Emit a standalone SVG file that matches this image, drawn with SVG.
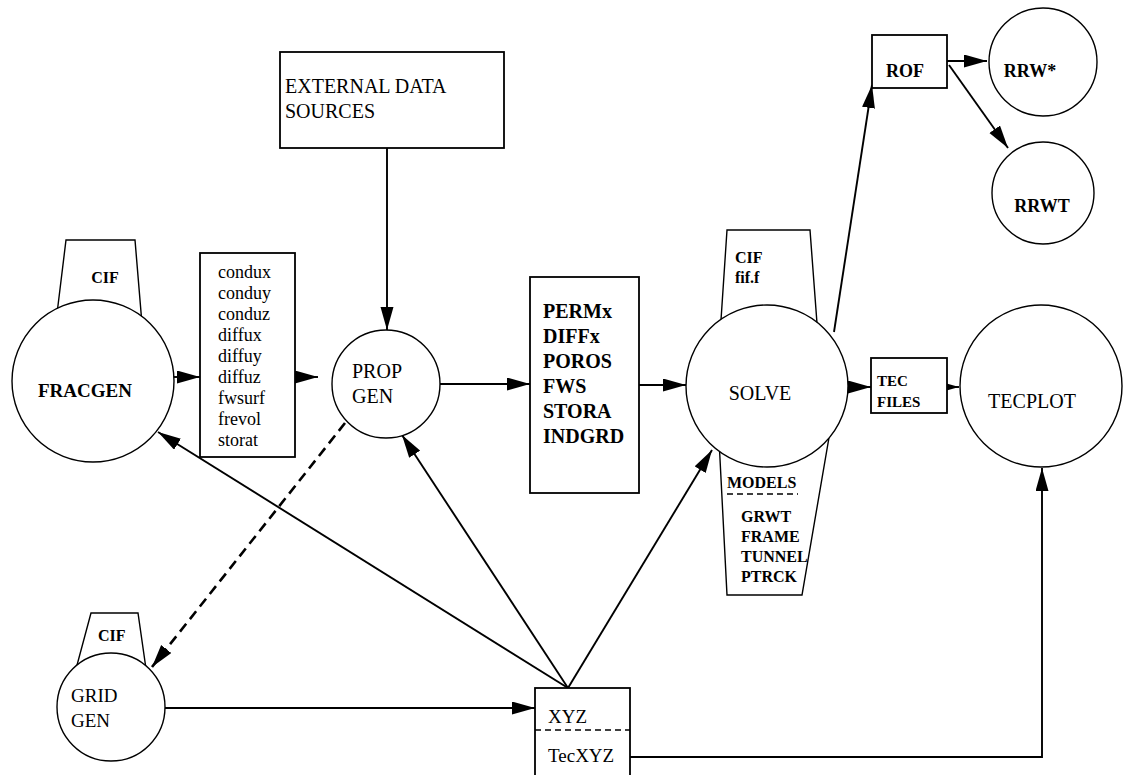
<svg xmlns="http://www.w3.org/2000/svg" width="1124" height="775" viewBox="0 0 1124 775">
<defs>
<marker id="ah" markerUnits="userSpaceOnUse" markerWidth="24" markerHeight="14" refX="23" refY="6.5" orient="auto">
<path d="M0,0 L23,6.5 L0,13 z" fill="#000"/>
</marker>
<style>
.c{fill:#fff;stroke:#000;stroke-width:1.4}
.b{fill:#fff;stroke:#000;stroke-width:1.8}
.t{fill:#fff;stroke:#000;stroke-width:1.4}
.e{fill:none;stroke:#000;stroke-width:1.9}
.a{marker-end:url(#ah)}
.d{stroke-dasharray:10,6;stroke-width:2.6}
text{font-family:"Liberation Serif","Times New Roman",serif;fill:#000}
.r20{font-size:20px}
.r19{font-size:19px}
.r18{font-size:18px}
.bd{font-weight:bold}
</style>
</defs>
<rect width="1124" height="775" fill="#fff"/>

<g id="connectors">
<path class="e a" d="M168,377 L200,377"/>
<path class="e a" d="M296,377 L318,377"/>
<path class="e a" d="M387,148 L387,330"/>
<path class="e a" d="M440,384 L530,384"/>
<path class="e a" d="M639,385 L686,385"/>
<path class="e a" d="M834,332 L872,85"/>
<path class="e a" d="M846,387 L871,387"/>
<path class="e a" d="M935,387 L959,387"/>
<path class="e a" d="M947,61 L987,61"/>
<path class="e a" d="M949,65 L1008,148"/>
<path class="e a" d="M568,688 L158,432"/>
<path class="e a" d="M568,688 L402,435"/>
<path class="e a" d="M568,688 L712,450"/>
<path class="e a" d="M165,708 L535,708"/>
<path class="e a d" d="M345,423 L152,667"/>
<path class="e a" d="M630,757 L1042,757 L1042,468"/>
</g>

<g id="fracgen">
<polygon class="t" points="66,240 135,240 142.5,330 55,330"/>
<text x="105" y="283" class="bd" font-size="16" text-anchor="middle">CIF</text>
<circle class="c" cx="93" cy="381" r="81"/>
<text x="38" y="397" class="bd" font-size="19">FRACGEN</text>
</g>

<g id="fracgen-out">
<rect class="b" x="200" y="253" width="95" height="204"/>
<text class="r18" x="218" y="278">condux</text>
<text class="r18" x="218" y="299">conduy</text>
<text class="r18" x="218" y="320">conduz</text>
<text class="r18" x="218" y="341">diffux</text>
<text class="r18" x="218" y="362">diffuy</text>
<text class="r18" x="218" y="383">diffuz</text>
<text class="r18" x="218" y="404">fwsurf</text>
<text class="r18" x="218" y="425">frevol</text>
<text class="r18" x="218" y="446">storat</text>
</g>

<g id="external">
<rect class="b" x="280" y="52" width="224" height="96"/>
<text class="r20" x="285" y="93">EXTERNAL DATA</text>
<text class="r20" x="285" y="118">SOURCES</text>
</g>

<g id="propgen">
<circle class="c" cx="386" cy="384" r="54"/>
<text class="r20" x="352" y="378">PROP</text>
<text class="r20" x="352" y="403">GEN</text>
</g>

<g id="propgen-out">
<rect class="b" x="530" y="277" width="109" height="216"/>
<text class="bd" font-size="20" x="543" y="318">PERMx</text>
<text class="bd" font-size="20" x="543" y="343">DIFFx</text>
<text class="bd" font-size="20" x="543" y="368">POROS</text>
<text class="bd" font-size="20" x="543" y="393">FWS</text>
<text class="bd" font-size="20" x="543" y="418">STORA</text>
<text class="bd" font-size="20" x="543" y="443">INDGRD</text>
</g>

<g id="solve">
<polygon class="t" points="727,230 810,230 819,350 719,350"/>
<text class="bd" font-size="16" x="735" y="263">CIF</text>
<text class="bd" font-size="16" x="735" y="283">fif.f</text>
<polygon class="t" points="718,420 832,420 802,595 727,595"/>
<circle class="c" cx="767" cy="386" r="81"/>
<text class="r20" x="760" y="400" text-anchor="middle">SOLVE</text>
<text class="bd" font-size="16" x="727" y="488">MODELS</text>
<line x1="727" y1="494" x2="798" y2="494" stroke="#000" stroke-width="1.6" stroke-dasharray="6,4"/>
<text class="bd" font-size="16" x="741" y="522">GRWT</text>
<text class="bd" font-size="16" x="741" y="542">FRAME</text>
<text class="bd" font-size="16" x="741" y="562">TUNNEL</text>
<text class="bd" font-size="16" x="741" y="582">PTRCK</text>
</g>

<g id="rof">
<rect class="b" x="872" y="35" width="75" height="53"/>
<text class="bd" font-size="18" x="905" y="77" text-anchor="middle">ROF</text>
</g>

<g id="rrw">
<circle class="c" cx="1043" cy="62" r="54"/>
<text class="bd" font-size="18" x="1030" y="77" text-anchor="middle">RRW*</text>
</g>

<g id="rrwt">
<circle class="c" cx="1043" cy="193" r="51"/>
<text class="bd" font-size="18" x="1042" y="212" text-anchor="middle">RRWT</text>
</g>

<g id="tecfiles">
<rect class="b" x="871" y="358" width="76" height="55"/>
<text class="bd" font-size="15" x="877" y="386">TEC</text>
<text class="bd" font-size="15" x="877" y="407">FILES</text>
</g>

<g id="tecplot">
<circle class="c" cx="1041" cy="386" r="81"/>
<text class="r20" x="1032" y="408" text-anchor="middle">TECPLOT</text>
</g>

<g id="gridgen">
<polygon class="t" points="91,613 138,613 147.6,680 73,680"/>
<text class="bd" font-size="16" x="98" y="641">CIF</text>
<circle class="c" cx="111" cy="707" r="54"/>
<text class="r19" x="71" y="702">GRID</text>
<text class="r19" x="71" y="727">GEN</text>
</g>

<g id="xyz">
<rect class="b" x="535" y="688" width="95" height="100"/>
<line x1="535" y1="730" x2="630" y2="730" stroke="#000" stroke-width="1.6" stroke-dasharray="6,4"/>
<text class="r19" x="548" y="723">XYZ</text>
<text class="r19" x="548" y="762">TecXYZ</text>
</g>
</svg>
